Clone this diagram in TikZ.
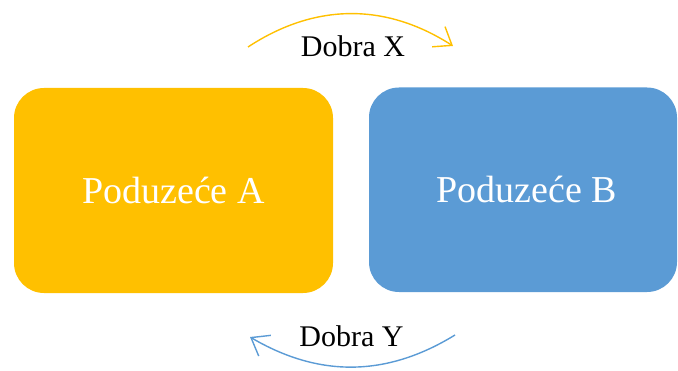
\documentclass[tikz,border=0pt]{standalone}
\usepackage{fontspec}
\setmainfont{Liberation Serif}
\usetikzlibrary{arrows.meta}
\definecolor{gold}{HTML}{FFC000}
\definecolor{steel}{HTML}{5B9BD5}
\begin{document}
\begin{tikzpicture}[x=1pt,y=1pt,
  firm/.style={rounded corners=30pt, inner sep=0pt, text=white, font=\fontsize{38}{40}\selectfont},
  flow/.style={line width=1.4pt, -{Straight Barb[length=16pt,width=24pt]}},
  lbl/.style={font=\fontsize{30}{32}\selectfont, anchor=base, inner sep=0pt}]
\useasboundingbox (0,0) rectangle (678,370);
\node[firm, fill=gold, minimum width=319pt, minimum height=205pt] (A) at (173.5,179.5) {Poduzeće A};
\node[firm, fill=steel, minimum width=308pt, minimum height=204.5pt] (B) at (523,180.25) {\hspace*{8pt}Poduzeće B};
\coordinate (xs) at (248,323);
\coordinate (xe) at (453,324);
\coordinate (ys) at (455,35);
\coordinate (ye) at (250,33);
\draw[flow, gold] (xs) to[bend left=33] (xe);
\draw[flow, steel] (ys) to[bend left=31] (ye);
\node[lbl] (lx) at (353,313) {Dobra X};
\node[lbl] (ly) at (351.5,24) {Dobra Y};
\end{tikzpicture}
\end{document}
